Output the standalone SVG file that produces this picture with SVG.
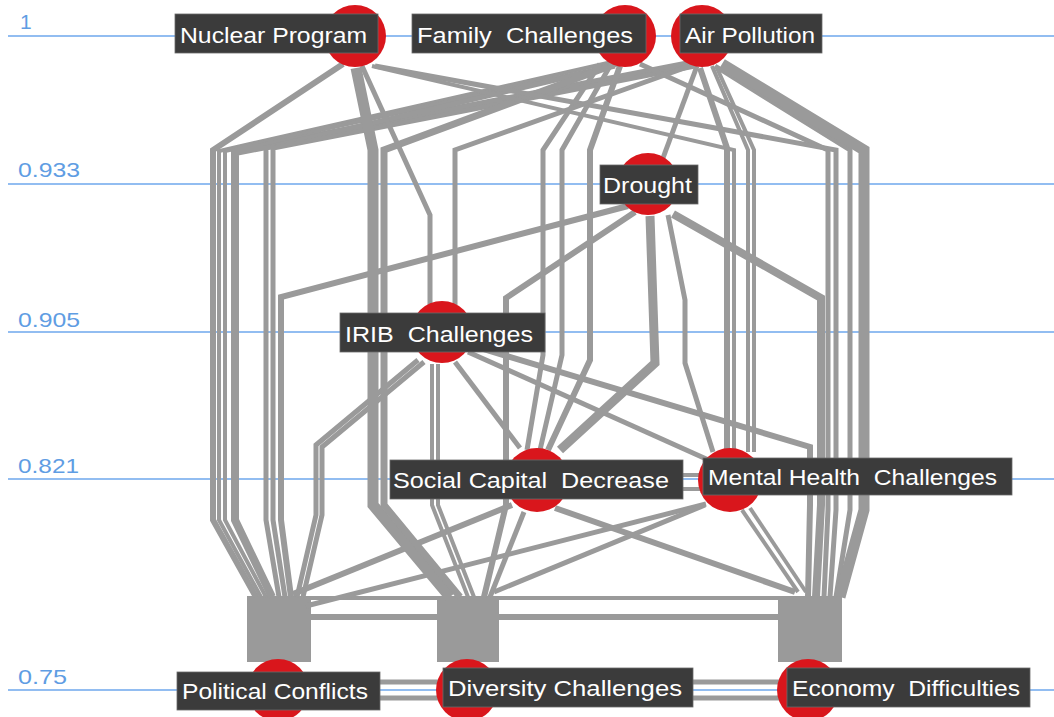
<svg xmlns="http://www.w3.org/2000/svg" width="1054" height="717" viewBox="0 0 1054 717">
<style>
.ax{stroke:#6ea7ec;stroke-width:1.6;fill:none}
.axl{fill:#5f9de3;font-family:"Liberation Sans",Arial,sans-serif;font-size:21px}
.e{stroke:#9a9a9a;fill:none;stroke-linejoin:miter;stroke-linecap:butt}
.tr{fill:#9a9a9a}
.c{fill:#d9161c}
.b{fill:#3b3b3b;stroke:#6a6a6a;stroke-width:0.8}
.t{fill:#ffffff;font-family:"Liberation Sans",Arial,sans-serif;font-size:22px;white-space:pre}
</style>
<rect width="1054" height="717" fill="#ffffff"/>
<g id="axis">
<line class="ax" x1="8" y1="36" x2="1054" y2="36"/>
<line class="ax" x1="8" y1="184" x2="1054" y2="184"/>
<line class="ax" x1="8" y1="332" x2="1054" y2="332"/>
<line class="ax" x1="8" y1="479" x2="1054" y2="479"/>
<line class="ax" x1="8" y1="690" x2="1054" y2="690"/>
<text class="axl" x="20" y="29">1</text>
<text class="axl" x="18" y="177" textLength="62" lengthAdjust="spacingAndGlyphs">0.933</text>
<text class="axl" x="18" y="327" textLength="62" lengthAdjust="spacingAndGlyphs">0.905</text>
<text class="axl" x="18" y="473" textLength="61" lengthAdjust="spacingAndGlyphs">0.821</text>
<text class="axl" x="18" y="684" textLength="49" lengthAdjust="spacingAndGlyphs">0.75</text>
</g>
<g id="connectors">
<rect class="tr" x="247" y="596" width="64" height="66"/>
<rect class="tr" x="437" y="596" width="62" height="66"/>
<rect class="tr" x="778" y="596" width="64" height="66"/>
<path class="e" stroke-width="4" d="M310,598 L780,598"/>
<path class="e" stroke-width="6" d="M310,617 L780,617"/>
<path class="e" stroke-width="5" d="M378,682 L445,682 M378,698 L445,698 M691,682 L789,682 M691,698 L789,698"/>
<path class="e" stroke-width="4" d="M681,475 L705,475 M681,489 L705,489"/>
<!-- left bundle to Political Conflicts -->
<path class="e" stroke-width="6" d="M343,64 L213,150 L213,520 L256,597"/>
<path class="e" stroke-width="4" d="M612,62 L219,151 L219,520 L261,597"/>
<path class="e" stroke-width="4" d="M620,64 L225,151 L225,520 L266,597"/>
<path class="e" stroke-width="8" d="M690,64 L235,152 L235,520 L272,597"/>
<path class="e" stroke-width="5" d="M615,66 L266,148 L266,520 L279,597"/>
<path class="e" stroke-width="5" d="M695,66 L273,148 L273,520 L285,597"/>
<path class="e" stroke-width="6" d="M628,206 L281,297 L281,520 L291,597"/>
<path class="e" stroke-width="5" d="M418,360 L316,445 L316,515 L297,597"/>
<path class="e" stroke-width="5" d="M424,362 L322,447 L322,515 L303,597"/>
<path class="e" stroke-width="6" d="M512,505 L293,594"/>
<path class="e" stroke-width="5" d="M706,504 L306,606"/>
<!-- to Diversity Challenges -->
<path class="e" stroke-width="11" d="M356,68 L373,150 L373,505 L450,597"/>
<path class="e" stroke-width="7" d="M610,66 L384,150 L384,505 L460,597"/>
<path class="e" stroke-width="4" d="M432,364 L432,505 L468,597"/>
<path class="e" stroke-width="4" d="M438,364 L438,505 L474,597"/>
<path class="e" stroke-width="6" d="M635,212 L506,298 L506,505 L484,597"/>
<path class="e" stroke-width="5" d="M524,512 L490,597"/>
<path class="e" stroke-width="5" d="M705,505 L494,592"/>
<!-- to Economy Difficulties -->
<path class="e" stroke-width="6" d="M555,508 L795,592"/>
<path class="e" stroke-width="4" d="M742,510 L798,592"/>
<path class="e" stroke-width="4" d="M750,508 L806,592"/>
<path class="e" stroke-width="6" d="M470,345 L810,447 L810,505 L808,597"/>
<path class="e" stroke-width="8" d="M673,214 L821,298 L821,505 L816,597"/>
<path class="e" stroke-width="5" d="M640,64 L828,150 L828,510 L824,597"/>
<path class="e" stroke-width="5" d="M375,66 L836,150 L836,510 L830,597"/>
<path class="e" stroke-width="5" d="M715,66 L850,150 L850,510 L836,597"/>
<path class="e" stroke-width="11" d="M722,64 L864,150 L864,510 L840,597"/>
<!-- to Mental Health Challenges -->
<path class="e" stroke-width="6" d="M700,68 L727,148 L727,452"/>
<path class="e" stroke-width="4" d="M372,66 L734,150 L734,452"/>
<path class="e" stroke-width="4" d="M712,66 L748,150 L748,452"/>
<path class="e" stroke-width="4" d="M716,66 L754,150 L754,452"/>
<path class="e" stroke-width="5" d="M668,215 L685,300 L685,363 L713,452"/>
<path class="e" stroke-width="5" d="M468,352 L713,462"/>
<!-- to Social Capital Decrease -->
<path class="e" stroke-width="5" d="M600,64 L543,150 L543,355 L527,450"/>
<path class="e" stroke-width="5" d="M610,66 L562,150 L562,355 L540,450"/>
<path class="e" stroke-width="6" d="M620,66 L590,150 L590,360 L548,450"/>
<path class="e" stroke-width="9" d="M650,216 L655,363 L560,450"/>
<path class="e" stroke-width="5" d="M455,362 L520,448"/>
<!-- to IRIB / Drought -->
<path class="e" stroke-width="5" d="M362,66 L430,215 L430,305"/>
<path class="e" stroke-width="5" d="M690,66 L455,150 L455,305"/>
<path class="e" stroke-width="5" d="M697,66 L663,158"/>
</g>
<g id="n-nuclear"><circle class="c" cx="355" cy="36" r="31"/><rect class="b" x="175" y="14" width="203" height="39"/><text class="t" x="180" y="43" textLength="187" lengthAdjust="spacingAndGlyphs">Nuclear Program</text></g>
<g id="n-family"><circle class="c" cx="625" cy="36" r="31"/><rect class="b" x="412" y="14" width="234" height="39"/><text class="t" x="417" y="43" textLength="216" lengthAdjust="spacingAndGlyphs">Family  Challenges</text></g>
<g id="n-air"><circle class="c" cx="702" cy="36" r="31"/><rect class="b" x="680" y="14" width="142" height="39"/><text class="t" x="685" y="43" textLength="130" lengthAdjust="spacingAndGlyphs">Air Pollution</text></g>
<g id="n-drought"><circle class="c" cx="648" cy="184" r="31"/><rect class="b" x="600" y="165" width="98" height="39"/><text class="t" x="603" y="193" textLength="89" lengthAdjust="spacingAndGlyphs">Drought</text></g>
<g id="n-irib"><circle class="c" cx="442" cy="332" r="31"/><rect class="b" x="340" y="313" width="205" height="39"/><text class="t" x="345" y="342" textLength="188" lengthAdjust="spacingAndGlyphs">IRIB  Challenges</text></g>
<g id="n-social"><circle class="c" cx="537" cy="480" r="32"/><rect class="b" x="390" y="460" width="293" height="39"/><text class="t" x="393" y="488" textLength="276" lengthAdjust="spacingAndGlyphs">Social Capital  Decrease</text></g>
<g id="n-mental"><circle class="c" cx="730" cy="480" r="32"/><rect class="b" x="703" y="458" width="309" height="37"/><text class="t" x="708" y="485" textLength="289" lengthAdjust="spacingAndGlyphs">Mental Health  Challenges</text></g>
<g id="n-political"><circle class="c" cx="278" cy="690" r="31"/><rect class="b" x="177" y="672" width="203" height="38"/><text class="t" x="182" y="699" textLength="186" lengthAdjust="spacingAndGlyphs">Political Conflicts</text></g>
<g id="n-diversity"><circle class="c" cx="467" cy="690" r="31"/><rect class="b" x="443" y="668" width="250" height="39"/><text class="t" x="448" y="696" textLength="234" lengthAdjust="spacingAndGlyphs">Diversity Challenges</text></g>
<g id="n-economy"><circle class="c" cx="808" cy="690" r="31"/><rect class="b" x="787" y="668" width="243" height="39"/><text class="t" x="792" y="696" textLength="228" lengthAdjust="spacingAndGlyphs">Economy  Difficulties</text></g>
</svg>
